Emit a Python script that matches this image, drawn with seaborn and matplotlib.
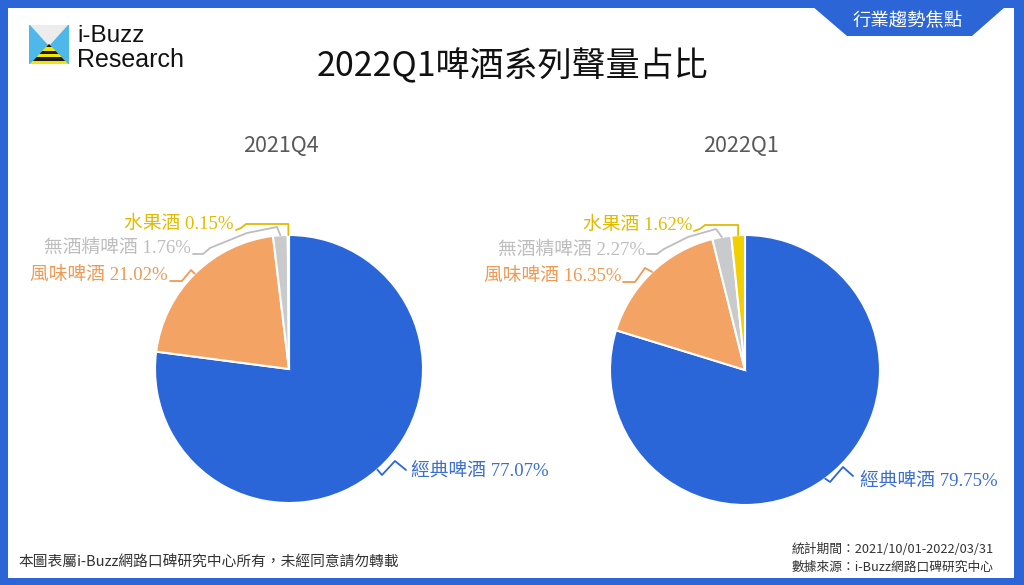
import numpy as np
import matplotlib
matplotlib.use('Agg')
import matplotlib.pyplot as plt
import seaborn as sns
from matplotlib.patches import Polygon, Rectangle

# ---------------- data ----------------
periods = ['2021Q4', '2022Q1']
categories = ['經典啤酒', '風味啤酒', '無酒精啤酒', '水果酒']
share_2021q4 = [77.07, 21.02, 1.76, 0.15]
share_2022q1 = [79.75, 16.35, 2.27, 1.62]

title = '2022Q1啤酒系列聲量占比'
banner = '行業趨勢焦點'
footer_left = '本圖表屬i-Buzz網路口碑研究中心所有，未經同意請勿轉載'
footer_right = ['統計期間：2021/10/01-2022/03/31', '數據來源：i-Buzz網路口碑研究中心']

# ---------------- style ----------------
sns.set_theme(style='white')
CJK = 'Noto Sans CJK TC'
plt.rcParams['font.family'] = [CJK, 'DejaVu Sans']

pie_colors = sns.color_palette(['#2B66D8', '#F3A363', '#C9CACC', '#F2CF00'])
text_colors = ['#3A6ED6', '#EE9A55', '#BDBDBD', '#E2BB00']
FRAME = '#2C66D6'

W, H = 1024, 585
fig = plt.figure(figsize=(W / 100, H / 100), dpi=100)
fig.patch.set_facecolor('white')
ax = fig.add_axes([0, 0, 1, 1])


def Y(y):
    return H - y


def P(pts):
    return [(x, Y(y)) for x, y in pts]


# pies: center (px), radius, label layout
layouts = [
    dict(center=(289, 369), r=134, title_x=281,
         text=[(411, 472, 'left'), (168, 275, 'right'), (191, 248, 'right'), (234, 224, 'right')],
         lead=[[(382, 475), (395, 461), (406, 470)],
               [(191, 270), (182, 281), (170, 281)],
               [(277, 227), (247, 233), (210, 248), (203, 254), (193, 254)],
               [None, (246, 224), (241, 228), (236, 230)]],
         top=224),
    dict(center=(745, 370), r=135, title_x=741,
         text=[(860, 482, 'left'), (621, 276, 'right'), (645, 250, 'right'), (692, 225, 'right')],
         lead=[[(830, 482), (843, 467), (853, 476)],
               [(645, 268), (635, 282), (623, 282)],
               [(716, 229), (688, 237), (664, 249), (657, 254), (647, 254)],
               [None, (705, 225), (700, 229), (694, 231)]],
         top=225),
]

for period, values, lay in zip(periods, [share_2021q4, share_2022q1], layouts):
    cx, cy = lay['center']
    r = lay['r']
    wedges, _ = ax.pie(values, center=(cx, Y(cy)), radius=r, startangle=90,
                       counterclock=False, colors=pie_colors,
                       wedgeprops=dict(edgecolor='white', linewidth=1.5))
    ax.text(lay['title_x'], Y(146), period, ha='center', va='center',
            fontsize=15.5, color='#595959', family=[CJK])
    for i, (w, cat, val) in enumerate(zip(wedges, categories, values)):
        mid = np.deg2rad((w.theta1 + w.theta2) / 2)
        ax_x = cx + r * np.cos(mid)
        ax_y = Y(cy) + r * np.sin(mid)
        pts = [(ax_x, ax_y)]
        for p in lay['lead'][i]:
            if p is None:
                pts.append((ax_x, Y(lay['top'])))
            else:
                pts.append((p[0], Y(p[1])))
        xs, ys = zip(*pts)
        ax.plot(xs, ys, color=text_colors[i] if i != 0 else pie_colors[0],
                lw=1.3, solid_joinstyle='round')
        tx, ty, ha = lay['text'][i]
        ax.text(tx, Y(ty), f'{cat} {val:.2f}%', ha=ha, va='center', fontsize=13.5,
                color=text_colors[i], family=['Liberation Serif', CJK])

# title
ax.text(512, Y(67), title, ha='center', va='center', fontsize=24.5, color='#111111',
        family=[CJK])

# frame
ax.add_patch(Rectangle((0, Y(8)), W, 8, color=FRAME, lw=0))
ax.add_patch(Rectangle((0, 0), 8, H, color=FRAME, lw=0))
ax.add_patch(Rectangle((1014, 0), 10, H, color=FRAME, lw=0))
ax.add_patch(Rectangle((0, 0), W, H - 578, color=FRAME, lw=0))
ax.add_patch(Polygon(P([(805, 0), (847, 36), (972, 36), (1013, 0)]), closed=True,
                     color=FRAME, lw=0))
ax.text(908, Y(21), banner, ha='center', va='center', fontsize=13.2, color='white',
        family=[CJK])

# logo icon
x0, x1, y0, y1 = 29, 69, 25, 64
xm, ym = (x0 + x1) / 2, 46
ax.add_patch(Polygon(P([(x0, y0), (x1, y0), (x1, y1), (x0, y1)]), color='#4FB8EA', lw=0))
ax.add_patch(Polygon(P([(x0 + 1, y0), (x1 - 1, y0), (xm, ym)]), color='#ECECEC', lw=0))
tri = Polygon(P([(x0 + 1, y1), (x1 - 1, y1), (xm, ym - 2)]), color='#F5E400', lw=0)
ax.add_patch(tri)
band_colors = ['#1A1A1A', '#F5E400', '#1A1A1A', '#F5E400', '#1A1A1A', '#F5E400']
band_h = (y1 - (ym - 2)) / len(band_colors)
for k, c in enumerate(band_colors):
    top = (ym - 2) + k * band_h
    stripe = Rectangle((x0, Y(top + band_h)), x1 - x0, band_h, color=c, lw=0)
    ax.add_patch(stripe)
    stripe.set_clip_path(tri)
ax.text(77, Y(36), 'i-Buzz', ha='left', va='center', fontsize=17.5, color='#111111',
        family=['Liberation Sans'])
ax.text(77, Y(60), 'Research', ha='left', va='center', fontsize=18, color='#111111',
        family=['Liberation Sans'])

# footers
ax.text(18, Y(563), footer_left, ha='left', va='center', fontsize=10.6, color='#333333',
        family=[CJK, 'DejaVu Sans'])
ax.text(792, Y(549), footer_right[0], ha='left', va='center', fontsize=9.2, color='#333333',
        family=[CJK])
ax.text(792, Y(567), footer_right[1], ha='left', va='center', fontsize=9.2, color='#333333',
        family=[CJK])

ax.set_xlim(0, W)
ax.set_ylim(0, H)
ax.set_aspect('auto')
ax.axis('off')

fig.savefig('out.png', dpi=100, facecolor='white')
